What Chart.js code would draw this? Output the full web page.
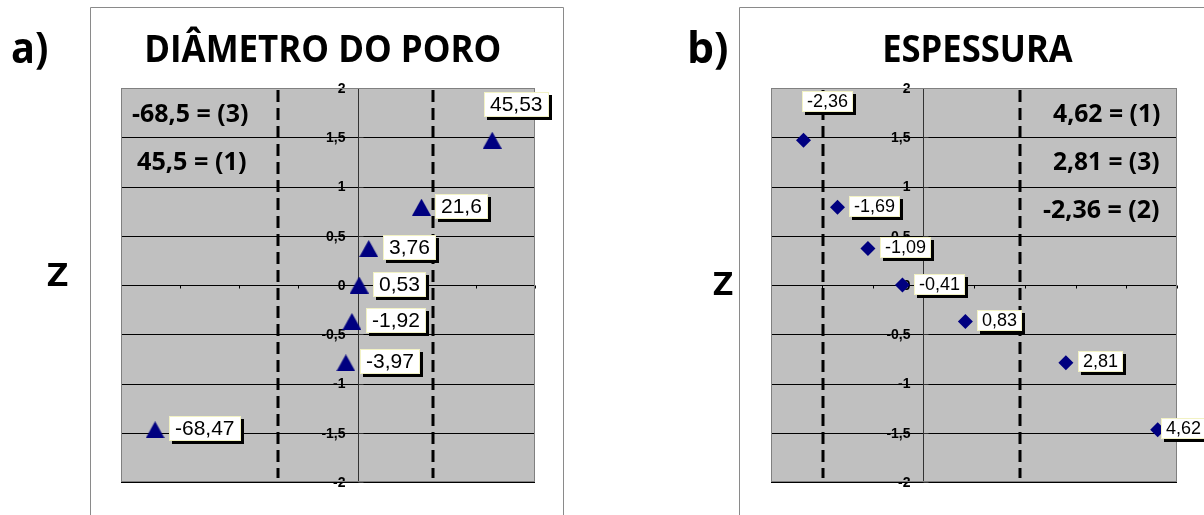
<!DOCTYPE html>
<html>
<head>
<meta charset="utf-8">
<script src="https://cdn.jsdelivr.net/npm/chart.js@4.4.1/dist/chart.umd.min.js"></script>
<style>
  html, body { margin: 0; padding: 0; background: #fff; }
  #wrap { position: relative; width: 1204px; height: 515px; overflow: hidden; background: #fff; }
  #wrap canvas { position: absolute; top: 0; }
</style>
</head>
<body>
<div id="wrap">
  <canvas id="poreChart" width="602" height="515" style="left:0px"></canvas>
  <canvas id="thickChart" width="602" height="515" style="left:602px"></canvas>
</div>
<script>
// Normal scores shared by both panels (one per ranked observation)
const zScores = [-1.47, -0.79, -0.37, 0, 0.37, 0.79, 1.47];

// a) pore diameter
const poreValues = [-68.47, -3.97, -1.92, 0.53, 3.76, 21.6, 45.53];
const poreLimits = [-26.9, 25.6];
const poreNotes = ['-68,5 = (3)', '45,5 = (1)'];
const poreRange = [-80, 60, 20];

// b) thickness
const thickValues = [4.62, 2.81, 0.83, -0.41, -1.09, -1.69, -2.36];
const thickLimits = [-1.98, 1.91];
const thickNotes = ['4,62 = (1)', '2,81 = (3)', '-2,36 = (2)'];
const thickRange = [-3, 5, 1];

// Z axis
const zTicks = [-2, -1.5, -1, -0.5, 0, 0.5, 1, 1.5, 2];
const zTickLabels = ['-2', '-1,5', '-1', '-0,5', '0', '0,5', '1', '1,5', '2'];

const titles = ['DIÂMETRO DO PORO', 'ESPESSURA'];
const panelTags = ['a)', 'b)'];
const axisTitle = 'Z';

// where each value label sits relative to its marker
const poreLabelPos = ['right', 'right', 'right', 'right', 'right', 'right', 'above'];
const thickLabelPos = ['tight', 'right', 'right', 'right', 'right', 'right', 'above'];

const NAVY = '#000080';
const HEAD_FONT = '"Open Sans", "Noto Sans", sans-serif';
const BODY_FONT = '"Liberation Sans", Arial, sans-serif';

const fmt = v => String(v).replace('.', ',');

// bold heading text squeezed to an exact ink width
function fitText(ctx, text, left, baseline, size, width) {
  ctx.save();
  ctx.font = 'bold ' + size + 'px ' + HEAD_FONT;
  const m = ctx.measureText(text);
  const ink = m.actualBoundingBoxLeft + m.actualBoundingBoxRight;
  const sx = width / ink;
  ctx.translate(left, baseline);
  ctx.scale(sx, 1);
  ctx.textAlign = 'left';
  ctx.textBaseline = 'alphabetic';
  ctx.fillStyle = '#000';
  ctx.fillText(text, m.actualBoundingBoxLeft, 0);
  ctx.restore();
}

// triangle marker
const triangle = document.createElement('canvas');
triangle.width = 19; triangle.height = 17;
(function () {
  const t = triangle.getContext('2d');
  t.fillStyle = NAVY;
  t.beginPath();
  t.moveTo(9.5, 0); t.lineTo(19, 17); t.lineTo(0, 17); t.closePath();
  t.fill();
})();

function panelPlugin(cfg) {
  return {
    id: 'panel',
    beforeDraw(chart) {
      const ctx = chart.ctx;
      ctx.save();
      // outer frame
      ctx.strokeStyle = '#8a8a8a';
      ctx.lineWidth = 1;
      ctx.beginPath();
      ctx.moveTo(cfg.frame.left + 0.5, 515);
      ctx.lineTo(cfg.frame.left + 0.5, cfg.frame.top + 0.5);
      ctx.lineTo(cfg.frame.right + 0.5, cfg.frame.top + 0.5);
      ctx.lineTo(cfg.frame.right + 0.5, 515);
      ctx.stroke();
      ctx.restore();
      fitText(ctx, cfg.title.text, cfg.title.left, cfg.title.baseline, 37, cfg.title.width);
      fitText(ctx, cfg.tag.text, cfg.tag.left, cfg.tag.baseline, 43, cfg.tag.width);
      fitText(ctx, axisTitle, cfg.z.left, cfg.z.baseline, 33, cfg.z.width);
    },
    beforeDatasetsDraw(chart) {
      const ctx = chart.ctx;
      const a = chart.chartArea;
      const xs = chart.scales.x, ys = chart.scales.y;
      ctx.save();
      // plot background
      ctx.fillStyle = '#c0c0c0';
      ctx.fillRect(a.left, a.top, a.right - a.left, a.bottom - a.top);
      // horizontal grid
      ctx.strokeStyle = '#000';
      ctx.lineWidth = 1;
      zTicks.forEach(t => {
        const y = Math.round(ys.getPixelForValue(t)) + 0.5;
        ctx.beginPath(); ctx.moveTo(a.left, y); ctx.lineTo(a.right, y); ctx.stroke();
      });
      // x axis tick marks on the zero line
      const y0 = Math.round(ys.getPixelForValue(0)) + 0.5;
      const [xmin, xmax, xstep] = cfg.range;
      for (let v = xmin; v <= xmax + 1e-9; v += xstep) {
        const x = Math.round(xs.getPixelForValue(v)) + 0.5;
        ctx.beginPath(); ctx.moveTo(x, y0); ctx.lineTo(x, y0 + 3); ctx.stroke();
      }
      // vertical Z axis through x = 0
      const x0 = Math.round(xs.getPixelForValue(0)) + 0.5;
      ctx.strokeStyle = '#333';
      ctx.beginPath(); ctx.moveTo(x0, a.top); ctx.lineTo(x0, a.bottom); ctx.stroke();
      zTicks.forEach(t => {
        const y = Math.round(ys.getPixelForValue(t)) + 0.5;
        ctx.beginPath(); ctx.moveTo(x0, y); ctx.lineTo(x0 + 5, y); ctx.stroke();
      });
      // Z tick labels
      ctx.fillStyle = '#000';
      ctx.font = 'bold 14px ' + BODY_FONT;
      ctx.textAlign = 'right';
      ctx.textBaseline = 'middle';
      zTicks.forEach((t, i) => {
        ctx.fillText(zTickLabels[i], x0 - 13, ys.getPixelForValue(t) + 1);
      });
      // dashed limit lines
      ctx.strokeStyle = '#000';
      ctx.lineWidth = 3;
      ctx.setLineDash([12, 6]);
      cfg.limits.forEach(v => {
        const x = Math.round(xs.getPixelForValue(v));
        ctx.beginPath(); ctx.moveTo(x, a.top + 2); ctx.lineTo(x, a.bottom - 4); ctx.stroke();
      });
      ctx.setLineDash([]);
      // plot border
      ctx.strokeStyle = '#808080';
      ctx.lineWidth = 1;
      ctx.strokeRect(a.left + 0.5, a.top + 0.5, a.right - a.left - 1, a.bottom - a.top - 1);
      ctx.restore();
      // notes inside the plot
      cfg.notes.forEach((n, i) => {
        fitText(ctx, cfg.noteText[i], n.left, n.baseline, 25, n.width);
      });
    },
    afterDatasetsDraw(chart) {
      const ctx = chart.ctx;
      const meta = chart.getDatasetMeta(0);
      const L = cfg.label;
      ctx.save();
      ctx.font = L.size + 'px ' + BODY_FONT;
      ctx.textAlign = 'left';
      ctx.textBaseline = 'middle';
      meta.data.forEach((pt, i) => {
        const text = fmt(cfg.values[i]);
        const w = Math.round(ctx.measureText(text).width + 2 * L.padX);
        const h = L.boxH;
        let bx, by;
        const pos = cfg.positions[i];
        if (pos === 'above') {
          bx = pt.x + L.above[0]; by = pt.y + L.above[1];
        } else if (pos === 'tight') {
          bx = pt.x + 3; by = pt.y - 1 - h / 2;
        } else {
          bx = pt.x + L.gap; by = pt.y - 1 - h / 2;
        }
        bx = Math.round(bx); by = Math.round(by);
        ctx.fillStyle = '#000';
        ctx.fillRect(bx + 3, by + 3, w, h);
        ctx.fillStyle = '#fff';
        ctx.fillRect(bx, by, w, h);
        ctx.strokeStyle = '#f2f2c4';
        ctx.lineWidth = 1;
        ctx.strokeRect(bx + 0.5, by + 0.5, w - 1, h - 1);
        ctx.fillStyle = '#000';
        ctx.fillText(text, bx + L.padX, by + h / 2 + 1);
      });
      ctx.restore();
    }
  };
}

function makeChart(id, values, pointOpts, range, padding, cfg) {
  cfg.range = range;
  cfg.values = values;
  return new Chart(document.getElementById(id), {
    type: 'scatter',
    data: {
      datasets: [Object.assign({
        data: values.map((v, i) => ({ x: v, y: zScores[i] })),
        backgroundColor: NAVY,
        borderColor: NAVY,
        borderWidth: 0,
        showLine: false,
        clip: false
      }, pointOpts)]
    },
    options: {
      responsive: false,
      animation: false,
      events: [],
      layout: { padding },
      plugins: { legend: { display: false }, tooltip: { enabled: false } },
      scales: {
        x: { type: 'linear', display: false, min: range[0], max: range[1] },
        y: { type: 'linear', display: false, min: -2, max: 2 }
      }
    },
    plugins: [panelPlugin(cfg)]
  });
}

makeChart('poreChart', poreValues,
  { pointStyle: triangle, pointRadius: 10 },
  poreRange,
  { left: 121, top: 88, right: 67, bottom: 33 },
  {
    frame: { left: 90, top: 7, right: 563 },
    title: { text: titles[0], left: 147, width: 353, baseline: 62 },
    tag: { text: panelTags[0], left: 12, width: 35, baseline: 63 },
    z: { left: 47, width: 21, baseline: 286 },
    notes: [{ left: 132, width: 116, baseline: 122 }, { left: 137, width: 109, baseline: 170 }],
    noteText: poreNotes,
    limits: poreLimits,
    positions: poreLabelPos,
    label: { size: 21, boxH: 25, padX: 6, gap: 14, above: [-8, -48] }
  });

makeChart('thickChart', thickValues,
  { pointStyle: 'rectRot', pointRadius: 7.5 },
  thickRange,
  { left: 169, top: 88, right: 27, bottom: 33 },
  {
    frame: { left: 137, top: 7, right: 620 },
    title: { text: titles[1], left: 283, width: 188, baseline: 62 },
    tag: { text: panelTags[1], left: 88, width: 37, baseline: 63 },
    z: { left: 111, width: 20, baseline: 295 },
    notes: [{ left: 451, width: 107, baseline: 122 }, { left: 451, width: 106, baseline: 170 }, { left: 441, width: 116, baseline: 218 }],
    noteText: thickNotes,
    limits: thickLimits,
    positions: thickLabelPos,
    label: { size: 18, boxH: 21, padX: 5, gap: 12, above: [-1, -49] }
  });
</script>
</body>
</html>
